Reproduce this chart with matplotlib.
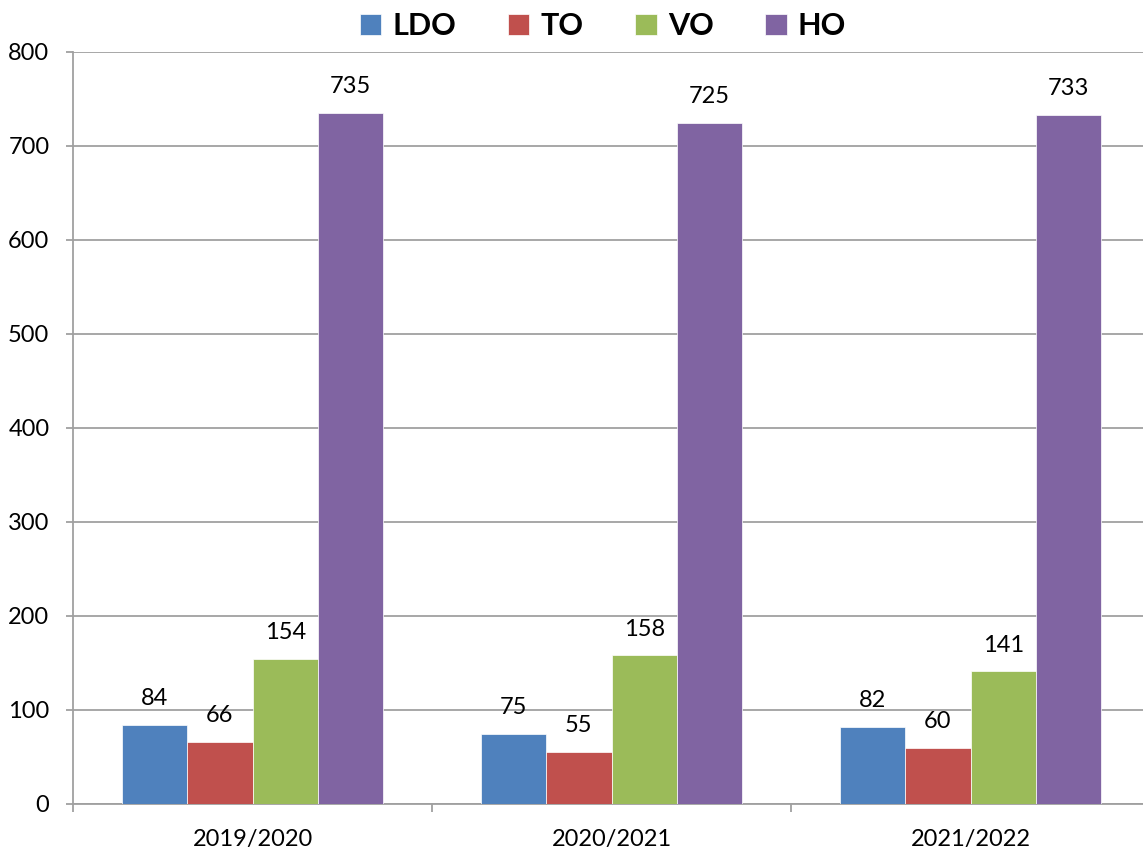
import matplotlib
matplotlib.use("Agg")
import matplotlib.pyplot as plt
import numpy as np

categories = ["2019/2020", "2020/2021", "2021/2022"]
series_names = ["LDO", "TO", "VO", "HO"]
ldo = [84, 75, 82]
to = [66, 55, 60]
vo = [154, 158, 141]
ho = [735, 725, 733]
colors = ["#4F81BD", "#C0504D", "#9BBB59", "#8064A2"]
yticks = [0, 100, 200, 300, 400, 500, 600, 700, 800]

plt.rcParams['font.family'] = ['Lato', 'DejaVu Sans']

W, H = 1143, 850
fig = plt.figure(figsize=(W / 100, H / 100), dpi=100)
ax = fig.add_axes([73 / W, 1 - 804 / H, (1150 - 73) / W, (804 - 52) / H])

grid_c = "#A0A0A0"
x = np.arange(len(categories))
bw = 0.182
values = [ldo, to, vo, ho]
handles = []
for i, (name, vals, c) in enumerate(zip(series_names, values, colors)):
    pos = x + (i - 1.5) * bw
    b = ax.bar(pos, vals, width=bw, color=c, edgecolor="white", linewidth=0.5,
               label=name, zorder=3)
    handles.append(b)
    for p, v in zip(pos, vals):
        ax.annotate(str(v), (p, v), xytext=(0, 19), textcoords="offset points",
                    ha="center", va="center", fontsize=17, color="black")

ax.set_xlim(-0.5, 2.5)
ax.set_ylim(0, 800)
ax.set_yticks(yticks)
ax.set_yticklabels([str(t) for t in yticks], fontsize=17)
ax.yaxis.grid(True, color=grid_c, linewidth=1.3, zorder=0)
ax.set_axisbelow(True)

ax.set_xticks([-0.5, 0.5, 1.5, 2.5])
ax.set_xticklabels([])
ax.set_xticks(x, minor=True)
ax.set_xticklabels(categories, minor=True, fontsize=17)
ax.tick_params(axis="x", which="minor", length=0, pad=18)
ax.tick_params(axis="x", which="major", length=6, width=1.3, color=grid_c, direction="out")
ax.tick_params(axis="y", length=5, width=1.3, color=grid_c, pad=12, direction="out")

for s in ["top", "right"]:
    ax.spines[s].set_visible(False)
for s in ["left", "bottom"]:
    ax.spines[s].set_color(grid_c)
    ax.spines[s].set_linewidth(1.3)

leg = fig.legend(handles=handles, labels=series_names, loc="center",
                 bbox_to_anchor=(603 / W, 1 - 26 / H), ncol=4, frameon=False,
                 prop={"weight": "bold", "size": 22}, handlelength=0.7,
                 handleheight=0.7, handletextpad=0.36, columnspacing=1.7,
                 borderpad=0)

fig.savefig("out.png", dpi=100)
